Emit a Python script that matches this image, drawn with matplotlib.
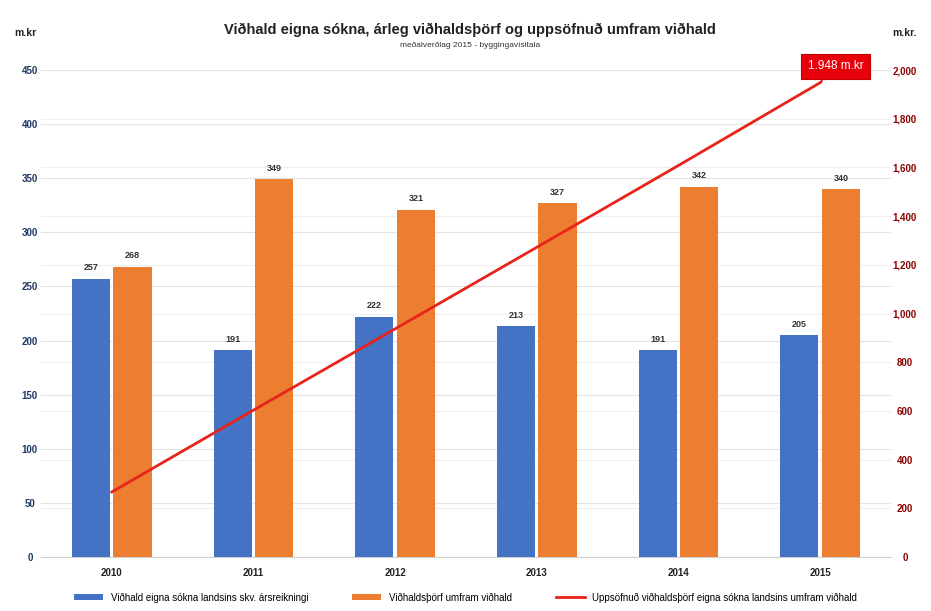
import numpy as np
import matplotlib.pyplot as plt
from matplotlib.ticker import FuncFormatter

plt.rcParams['font.family'] = ['Liberation Sans', 'DejaVu Sans']

years = ['2010', '2011', '2012', '2013', '2014', '2015']
vidhald = [257, 191, 222, 213, 191, 205]
thorf = [268, 349, 321, 327, 342, 340]
uppsafnad = [267, 603, 937, 1272, 1608, 1948]

label_vidhald = "Viðhald eigna sókna landsins skv. ársreikningi"
label_thorf = "Viðhaldsþörf umfram viðhald"
label_upps = "Uppsöfnuð viðhaldsþörf eigna sókna landsins umfram viðhald"

blue = '#4472C4'
orange = '#ED7D31'
red = '#E8231A'

fig = plt.figure(figsize=(9.31, 6.11), dpi=100)
ax = fig.add_axes([0.044, 0.0884, 0.913, 0.797])
ax2 = ax.twinx()

x = np.arange(len(years))
w = 0.27
b1 = ax.bar(x - 0.147, vidhald, w, color=blue, label=label_vidhald, zorder=3)
b2 = ax.bar(x + 0.147, thorf, w, color=orange, label=label_thorf, zorder=3)

for bars, vals in ((b1, vidhald), (b2, thorf)):
    for r, v in zip(bars, vals):
        ax.text(r.get_x() + r.get_width() / 2, v + 6, str(v), ha='center', va='bottom',
                fontsize=6.5, fontweight='bold', color='#333333', zorder=5)

ax.set_ylim(0, 450)
ax.set_yticks(np.arange(0, 451, 50))
ax.set_xlim(-0.5, 5.5)
ax.set_xticks(x)
ax.set_xticklabels(years, fontsize=7, fontweight='bold', color='#222222')
ax.tick_params(axis='both', length=0)
ax.tick_params(axis='x', pad=8)
ax.tick_params(axis='y', pad=8)
for t in ax.get_yticklabels():
    t.set_fontsize(7)
    t.set_fontweight('bold')
    t.set_color('#1F3864')
    t.set_ha('center')
ax.grid(axis='y', color='#e3e3e3', linewidth=0.8, zorder=0)

ax2.plot(x, uppsafnad, color=red, linewidth=2, label=label_upps, zorder=4)
right_max = 2000
right_ticks = np.arange(0, right_max + 1, 200)
ax2.set_ylim(0, right_max)
ax2.set_yticks(right_ticks)
ax2.yaxis.set_major_formatter(FuncFormatter(lambda v, p: f"{int(v):,}"))
ax2.tick_params(axis='y', length=0, pad=10, labelsize=7, labelcolor='#8B0000')
for t in ax2.get_yticklabels():
    t.set_fontweight('bold')
    t.set_ha('center')

# right-axis gridlines drawn on the left axes so they sit behind the bars
for rt in right_ticks[1:]:
    ax.axhline(rt * 450 / right_max, color='#efefef', linewidth=0.8, zorder=0)

for a in (ax, ax2):
    for s in a.spines.values():
        s.set_visible(False)
ax.spines['bottom'].set_visible(True)
ax.spines['bottom'].set_color('#d0d0d0')

ax2.annotate(f"{uppsafnad[-1]:,}".replace(',', '.') + " m.kr", xy=(x[-1], uppsafnad[-1]),
             xytext=(11, 12), textcoords='offset points', ha='center', va='center',
             fontsize=8.5, color='white',
             bbox=dict(boxstyle='square,pad=0.55', fc='#E8000B', ec='#C00000', lw=0.8),
             arrowprops=dict(arrowstyle='-', color='#E8000B', lw=1.5))

fig.text(0.505, 0.951, "Viðhald eigna sókna, árleg viðhaldsþörf og uppsöfnuð umfram viðhald",
         ha='center', va='center', fontsize=10.5, fontweight='bold', color='#222222')
fig.text(0.505, 0.925, "meðalverðlag 2015 - byggingavísitala", ha='center', va='center',
         fontsize=6, color='#333333')
fig.text(0.027, 0.946, "m.kr", ha='center', va='center', fontsize=7.5, fontweight='bold', color='#222222')
fig.text(0.972, 0.946, "m.kr.", ha='center', va='center', fontsize=7.5, fontweight='bold', color='#222222')

h1, l1 = ax.get_legend_handles_labels()
h2, l2 = ax2.get_legend_handles_labels()
fig.legend(h1 + h2, l1 + l2, loc='center', bbox_to_anchor=(0.5, 0.022), ncol=3,
           frameon=False, fontsize=7, handlelength=3, handleheight=0.6, columnspacing=4.5)

fig.savefig('out.png', dpi=100)
